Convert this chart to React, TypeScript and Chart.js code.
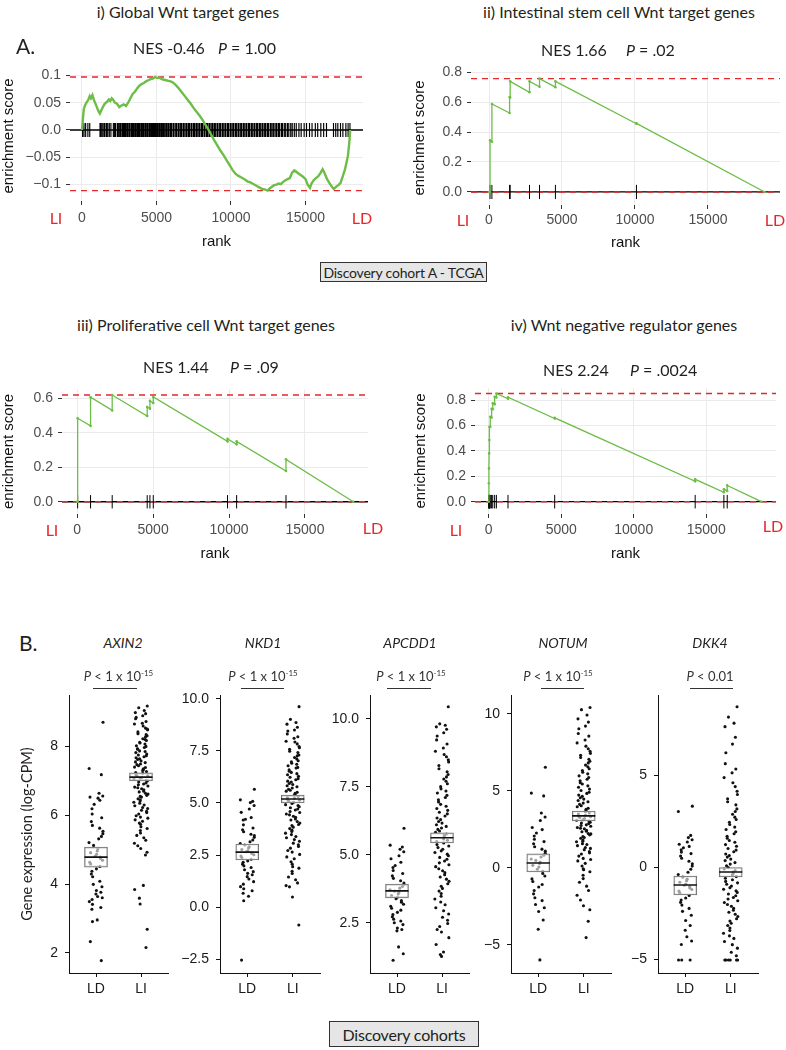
import React, { useEffect, useRef } from "react";
import { Chart, registerables } from "chart.js";

Chart.register(...registerables);

const GREEN = "#6dbd47";
const RED = "#e5262b";
const INK = "#231f20";
const SANS = "'Liberation Sans', Arial, Helvetica, sans-serif";
const MYRIAD = "Lato, 'Noto Sans', sans-serif";

/* ---------------- Panel A : GSEA running enrichment scores ---------------- */
const rankTicks = [0, 5000, 10000, 15000];

// i) Global Wnt target genes
const globalRank = [0, 60, 120, 200, 300, 420, 520, 600, 700, 800, 950, 1100, 1200, 1300, 1400, 1500, 1600, 1700, 1800, 1900, 2000, 2100, 2200, 2350, 2500, 2650, 2800, 2950, 3100, 3250, 3400, 3550, 3700, 3850, 4000, 4150, 4300, 4450, 4600, 4750, 4900, 5050, 5200, 5350, 5500, 5650, 5800, 5950, 6100, 6300, 6500, 6700, 6900, 7100, 7300, 7500, 7700, 7900, 8100, 8300, 8500, 8700, 8900, 9100, 9300, 9500, 9700, 9900, 10100, 10300, 10500, 10700, 10900, 11100, 11300, 11500, 11700, 11900, 12100, 12300, 12450, 12600, 12750, 12900, 13050, 13200, 13350, 13500, 13650, 13800, 13950, 14100, 14250, 14400, 14550, 14700, 14850, 15000, 15150, 15300, 15400, 15550, 15700, 15850, 16000, 16150, 16300, 16450, 16600, 16750, 16900, 17050, 17200, 17350, 17500, 17650, 17750, 17850, 17950, 18000];
const globalES = [0, 0.02, 0.038, 0.045, 0.05, 0.055, 0.062, 0.058, 0.064, 0.055, 0.045, 0.035, 0.03, 0.036, 0.042, 0.047, 0.05, 0.052, 0.056, 0.053, 0.058, 0.055, 0.05, 0.048, 0.042, 0.045, 0.047, 0.044, 0.05, 0.058, 0.066, 0.07, 0.076, 0.081, 0.084, 0.086, 0.089, 0.091, 0.093, 0.094, 0.097, 0.095, 0.096, 0.093, 0.092, 0.091, 0.09, 0.089, 0.087, 0.082, 0.076, 0.069, 0.062, 0.055, 0.048, 0.04, 0.033, 0.026, 0.018, 0.009, 0.0, -0.01, -0.02, -0.029, -0.038, -0.046, -0.055, -0.064, -0.073, -0.08, -0.084, -0.087, -0.09, -0.094, -0.096, -0.099, -0.102, -0.105, -0.108, -0.109, -0.111, -0.107, -0.104, -0.101, -0.1, -0.098, -0.099, -0.095, -0.092, -0.09, -0.088, -0.078, -0.074, -0.077, -0.08, -0.083, -0.086, -0.09, -0.1, -0.106, -0.098, -0.092, -0.088, -0.085, -0.079, -0.072, -0.08, -0.09, -0.097, -0.103, -0.108, -0.104, -0.101, -0.097, -0.085, -0.072, -0.06, -0.047, -0.02, 0];
const globalHits = [40, 135, 245, 395, 520, 1210, 1275, 1360, 1465, 1540, 1645, 1730, 1835, 1940, 2105, 2190, 2255, 2375, 2440, 2530, 2600, 2695, 2745, 2820, 2890, 2955, 3040, 3085, 3175, 3215, 3310, 3365, 3420, 3485, 3570, 3615, 3700, 3760, 3835, 3875, 3965, 4015, 4095, 4145, 4235, 4285, 4370, 4405, 4495, 4550, 4630, 4695, 4770, 4825, 4900, 4965, 5045, 5105, 5190, 5245, 5330, 5395, 5475, 5525, 5620, 5680, 5770, 5845, 5940, 6015, 6120, 6180, 6290, 6345, 6450, 6520, 6620, 6695, 6800, 6860, 6970, 7040, 7140, 7215, 7320, 7385, 7490, 7560, 7660, 7735, 7840, 7905, 8010, 8085, 8190, 8255, 8360, 8430, 8530, 8600, 8710, 8780, 8880, 8950, 9060, 9130, 9240, 9300, 9410, 9480, 9590, 9650, 9760, 9830, 9940, 10010, 10120, 10180, 10290, 10360, 10470, 10540, 10650, 10710, 10820, 10890, 11000, 11070, 11180, 11250, 11360, 11430, 11540, 11610, 11720, 11790, 11900, 11970, 12080, 12150, 12260, 12330, 12440, 12510, 12630, 12700, 12810, 12890, 13010, 13080, 13190, 13270, 13390, 13460, 13580, 13670, 13790, 13880, 14010, 14110, 14250, 14380, 14560, 14710, 14910, 15070, 15270, 15440, 15660, 15820, 16030, 16220, 16410, 16880, 17030, 17170, 17350, 17510, 17710, 17860, 17985];
const globalYTicks = [-0.1, -0.05, 0, 0.05, 0.1];
const globalYLabels = ["\u22120.1", "\u22120.05", "0.0", "0.05", "0.1"];

// ii) Intestinal stem cell Wnt target genes
const stemRank = [0, 70, 70, 200, 200, 1410, 1410, 1450, 1450, 2775, 2775, 3460, 3460, 4550, 4550, 10100, 10100, 18880];
const stemES = [0, 0, 0.344, 0.335, 0.587, 0.527, 0.633, 0.631, 0.738, 0.665, 0.738, 0.702, 0.756, 0.699, 0.738, 0.455, 0.458, 0];
const stemHits = [70, 200, 1410, 1450, 2775, 3460, 4550, 10100];
const stemYTicks = [0, 0.2, 0.4, 0.6, 0.8];
const stemYLabels = ["0.0", "0.2", "0.4", "0.6", "0.8"];

// iii) Proliferative cell Wnt target genes
const prolifRank = [0, 30, 30, 880, 880, 2305, 2305, 4610, 4610, 4790, 4790, 5010, 5010, 9900, 9900, 10500, 10500, 13750, 13750, 18180];
const prolifES = [0, 0, 0.484, 0.44, 0.606, 0.53, 0.619, 0.497, 0.55, 0.54, 0.585, 0.573, 0.608, 0.35, 0.365, 0.333, 0.35, 0.178, 0.246, 0];
const prolifHits = [30, 880, 2305, 4610, 4790, 5010, 9900, 10500, 13750];
const prolifYTicks = [0, 0.2, 0.4, 0.6];
const prolifYLabels = ["0.0", "0.2", "0.4", "0.6"];

// iv) Wnt negative regulator genes
const negRank = [0, 10, 20, 30, 40, 55, 110, 110, 200, 200, 280, 280, 410, 410, 530, 530, 1330, 1330, 4550, 4550, 14240, 14240, 16220, 16220, 16450, 16450, 18800];
const negES = [0, 0.145, 0.262, 0.38, 0.485, 0.59, 0.588, 0.668, 0.663, 0.732, 0.728, 0.775, 0.768, 0.826, 0.82, 0.852, 0.81, 0.822, 0.655, 0.66, 0.16, 0.176, 0.074, 0.097, 0.085, 0.128, 0];
const negHits = [10, 20, 30, 40, 55, 110, 200, 280, 410, 530, 1330, 4550, 14240, 16220, 16450];
const negYTicks = [0, 0.2, 0.4, 0.6, 0.8];
const negYLabels = ["0.0", "0.2", "0.4", "0.6", "0.8"];

/* ---------------- Panel B : gene expression, LD vs LI ---------------- */
const groups = ["LD", "LI"];
const geneNames = ["AXIN2", "NKD1", "APCDD1", "NOTUM", "DKK4"];
const pPrefix = ["< 1 x 10", "< 1 x 10", "< 1 x 10", "< 1 x 10", "< 0.01"];
const pExponent = ["-15", "-15", "-15", "-15", ""];

const axin2LD = [8.69, 7.35, 7.17, 6.63, 6.55, 6.49, 6.52, 6.43, 6.31, 6.18, 6.03, 5.92, 5.81, 5.7, 5.62, 5.53, 5.46, 5.38, 5.31, 5.2, 5.12, 5.02, 4.96, 4.91, 4.86, 4.8, 4.78, 4.74, 4.69, 4.63, 4.58, 4.51, 4.44, 4.37, 4.29, 4.21, 4.08, 3.99, 3.92, 3.81, 3.76, 3.71, 3.64, 3.6, 3.55, 3.49, 3.41, 3.32, 3.27, 2.96, 2.91, 2.33, 1.78];
const axin2LI = [9.16, 9.11, 9.03, 8.97, 8.94, 8.88, 8.83, 8.79, 8.71, 8.66, 8.64, 8.58, 8.52, 8.49, 8.47, 8.41, 8.36, 8.33, 8.3, 8.26, 8.21, 8.19, 8.16, 8.11, 8.09, 8.06, 8.01, 7.99, 7.96, 7.92, 7.91, 7.86, 7.84, 7.81, 7.77, 7.74, 7.72, 7.69, 7.66, 7.63, 7.61, 7.57, 7.54, 7.52, 7.48, 7.46, 7.43, 7.39, 7.38, 7.34, 7.31, 7.29, 7.26, 7.23, 7.21, 7.17, 7.14, 7.13, 7.09, 7.07, 7.04, 7.01, 6.99, 6.96, 6.93, 6.9, 6.88, 6.84, 6.81, 6.79, 6.76, 6.73, 6.69, 6.67, 6.63, 6.61, 6.57, 6.54, 6.52, 6.47, 6.44, 6.41, 6.37, 6.34, 6.29, 6.27, 6.22, 6.19, 6.14, 6.11, 6.07, 6.03, 5.98, 5.94, 5.91, 5.86, 5.82, 5.77, 5.73, 5.66, 5.61, 5.55, 5.48, 5.41, 5.34, 5.27, 5.18, 5.11, 5.03, 4.92, 4.84, 3.96, 3.84, 3.59, 3.42, 2.69, 2.16];
const axin2Box = [[4.49, 4.78, 5.07], [6.99, 7.1, 7.22]];
const axin2YTicks = [2, 4, 6, 8];
const axin2YLabels = ["2", "4", "6", "8"];

const nkd1LD = [5.66, 5.15, 5.08, 5.02, 4.88, 4.71, 4.55, 4.3, 4.22, 4.18, 3.95, 3.8, 3.71, 3.62, 3.5, 3.44, 3.35, 3.22, 3.14, 3.05, 2.98, 2.9, 2.84, 2.76, 2.7, 2.66, 2.62, 2.57, 2.51, 2.45, 2.38, 2.3, 2.22, 2.15, 2.06, 1.98, 1.9, 1.79, 1.7, 1.62, 1.55, 1.46, 1.35, 1.22, 1.1, 0.98, 0.88, 0.78, 0.66, 0.52, 0.3, -2.55];
const nkd1LI = [9.63, 9.02, 8.87, 8.79, 8.64, 8.51, 8.46, 8.32, 8.18, 8.11, 7.97, 7.93, 7.84, 7.71, 7.66, 7.58, 7.49, 7.43, 7.31, 7.27, 7.19, 7.12, 7.03, 6.98, 6.91, 6.86, 6.79, 6.71, 6.68, 6.59, 6.53, 6.47, 6.41, 6.36, 6.28, 6.24, 6.17, 6.12, 6.05, 6.01, 5.94, 5.89, 5.83, 5.78, 5.72, 5.66, 5.61, 5.57, 5.52, 5.46, 5.41, 5.37, 5.31, 5.26, 5.22, 5.17, 5.13, 5.08, 5.03, 4.98, 4.92, 4.88, 4.82, 4.77, 4.71, 4.66, 4.59, 4.54, 4.47, 4.43, 4.36, 4.31, 4.23, 4.18, 4.11, 4.04, 3.97, 3.92, 3.84, 3.77, 3.69, 3.63, 3.55, 3.48, 3.39, 3.33, 3.24, 3.16, 3.07, 2.99, 2.91, 2.83, 2.72, 2.64, 2.53, 2.41, 2.32, 2.18, 2.06, 1.94, 1.87, 1.72, 1.61, 1.44, 1.31, 1.16, 1.03, 0.97, 0.48, -0.86];
const nkd1Box = [[2.26, 2.64, 3.03], [5.0, 5.19, 5.38]];
const nkd1YTicks = [-2.5, 0, 2.5, 5, 7.5, 10];
const nkd1YLabels = ["\u22122.5", "0.0", "2.5", "5.0", "7.5", "10.0"];

const apcdd1LD = [5.98, 5.36, 5.29, 5.21, 5.12, 4.97, 4.86, 4.73, 4.61, 4.54, 4.43, 4.32, 4.23, 4.14, 4.05, 3.97, 3.91, 3.84, 3.78, 3.72, 3.67, 3.63, 3.57, 3.51, 3.45, 3.39, 3.32, 3.26, 3.19, 3.11, 3.04, 2.97, 2.89, 2.81, 2.73, 2.64, 2.57, 2.51, 2.44, 2.31, 2.26, 2.21, 1.62, 1.37, 1.13];
const apcdd1LI = [10.45, 9.82, 9.77, 9.71, 9.62, 9.49, 9.37, 9.23, 9.08, 8.93, 8.81, 8.69, 8.61, 8.5, 8.42, 8.29, 8.17, 8.06, 7.96, 7.87, 7.79, 7.71, 7.62, 7.51, 7.43, 7.35, 7.28, 7.19, 7.11, 7.03, 6.95, 6.86, 6.79, 6.71, 6.64, 6.57, 6.51, 6.43, 6.36, 6.3, 6.23, 6.17, 6.11, 6.05, 5.99, 5.94, 5.88, 5.83, 5.77, 5.72, 5.67, 5.59, 5.54, 5.49, 5.44, 5.38, 5.33, 5.27, 5.21, 5.15, 5.09, 5.03, 4.97, 4.91, 4.84, 4.78, 4.71, 4.64, 4.57, 4.49, 4.42, 4.35, 4.27, 4.19, 4.11, 4.03, 3.94, 3.85, 3.77, 3.67, 3.58, 3.48, 3.38, 3.27, 3.17, 3.06, 2.95, 2.83, 2.71, 2.6, 2.48, 2.37, 2.26, 2.17, 1.96, 1.71, 1.43, 1.34, 1.27];
const apcdd1Box = [[3.42, 3.68, 3.93], [5.44, 5.63, 5.81]];
const apcdd1YTicks = [2.5, 5, 7.5, 10];
const apcdd1YLabels = ["2.5", "5.0", "7.5", "10.0"];

const notumLD = [6.54, 4.86, 4.68, 3.57, 3.31, 3.08, 2.63, 2.49, 2.27, 2.08, 1.86, 1.71, 1.57, 1.38, 1.22, 1.09, 0.96, 0.83, 0.71, 0.58, 0.49, 0.38, 0.29, 0.17, 0.06, -0.08, -0.21, -0.36, -0.52, -0.71, -0.88, -1.07, -1.24, -1.46, -1.68, -1.93, -2.12, -2.37, -2.58, -2.83, -3.38, -3.98, -5.97];
const notumLI = [10.42, 10.28, 9.93, 9.68, 9.47, 9.21, 9.04, 8.73, 8.56, 8.31, 8.12, 7.91, 7.74, 7.58, 7.44, 7.31, 7.17, 7.06, 6.93, 6.82, 6.68, 6.57, 6.44, 6.33, 6.21, 6.11, 5.98, 5.87, 5.76, 5.66, 5.54, 5.45, 5.33, 5.24, 5.12, 5.03, 4.92, 4.84, 4.73, 4.65, 4.56, 4.47, 4.38, 4.3, 4.21, 4.13, 4.04, 3.97, 3.88, 3.81, 3.72, 3.65, 3.57, 3.5, 3.42, 3.36, 3.33, 3.28, 3.21, 3.13, 3.1, 3.05, 2.97, 2.92, 2.88, 2.8, 2.76, 2.71, 2.63, 2.58, 2.54, 2.44, 2.39, 2.35, 2.24, 2.21, 2.15, 2.04, 1.98, 1.93, 1.82, 1.74, 1.7, 1.58, 1.52, 1.45, 1.33, 1.27, 1.19, 1.06, 0.98, 0.91, 0.77, 0.62, 0.55, 0.46, 0.3, 0.13, -0.06, -0.12, -0.25, -0.47, -0.69, -0.93, -1.18, -1.46, -1.77, -2.08, -2.45, -2.71, -3.46, -4.52];
const notumBox = [[-0.26, 0.32, 0.91], [3.05, 3.38, 3.7]];
const notumYTicks = [-5, 0, 5, 10];
const notumYLabels = ["\u22125", "0", "5", "10"];

const dkk4LD = [3.31, 3.02, 1.72, 1.6, 1.48, 1.36, 1.24, 1.12, 1.05, 0.94, 0.81, 0.73, 0.6, 0.48, 0.31, 0.18, 0.05, -0.12, -0.28, -0.41, -0.55, -0.66, -0.74, -0.83, -0.92, -0.99, -1.06, -1.14, -1.22, -1.31, -1.43, -1.55, -1.68, -1.79, -1.92, -2.07, -2.25, -2.41, -2.62, -2.91, -3.18, -3.44, -3.79, -4.02, -4.21, -5.05, -5.05, -5.05];
const dkk4LI = [8.71, 8.15, 7.82, 7.63, 7.05, 6.68, 6.21, 5.62, 5.33, 5.12, 4.86, 4.58, 4.37, 4.12, 3.94, 3.71, 3.55, 3.38, 3.16, 3.02, 2.87, 2.71, 2.58, 2.43, 2.31, 2.17, 2.04, 1.92, 1.81, 1.67, 1.56, 1.44, 1.35, 1.22, 1.13, 1.01, 0.92, 0.83, 0.71, 0.62, 0.54, 0.43, 0.35, 0.24, 0.16, 0.07, -0.03, -0.11, -0.19, -0.27, -0.36, -0.44, -0.52, -0.61, -0.69, -0.78, -0.86, -0.94, -1.03, -1.12, -1.21, -1.29, -1.38, -1.47, -1.56, -1.66, -1.74, -1.83, -1.93, -2.04, -2.13, -2.24, -2.35, -2.46, -2.57, -2.69, -2.81, -2.93, -3.06, -3.18, -3.32, -3.45, -3.6, -3.74, -3.88, -4.05, -4.22, -4.41, -4.63, -4.82, -5.05, -5.05, -5.05, -5.05, -5.05, -5.05];
const dkk4Box = [[-1.52, -0.98, -0.49], [-0.54, -0.27, 0.0]];
const dkk4YTicks = [-5, 0, 5];
const dkk4YLabels = ["\u22125", "0", "5"];

/* ---------------- helpers ---------------- */
const JIT = 0.16;
const BOX_HALF = 0.256;
function jitterOffset(i: number, g: number) {
  const s = Math.sin((i + 1) * 12.9898 + g * 4.1414) * 43758.5453;
  return (s - Math.floor(s) - 0.5) * 2 * JIT;
}

function Txt({ x, y, size = 16, color = INK, align = "center", italic = false, family = MYRIAD, children }: any) {
  return (
    <div
      style={{
        position: "absolute",
        left: x,
        top: y - size * 0.6,
        height: size * 1.2,
        lineHeight: `${size * 1.2}px`,
        fontSize: size,
        fontFamily: family,
        color,
        fontStyle: italic ? "italic" : "normal",
        whiteSpace: "nowrap",
        transform: align === "center" ? "translateX(-50%)" : undefined,
      }}
    >
      {children}
    </div>
  );
}

function GseaChart(p: any) {
  const ref = useRef<HTMLCanvasElement | null>(null);
  useEffect(() => {
    if (!ref.current) return;
    const curve = p.rank.map((r: number, i: number) => ({ x: r, y: p.es[i] }));
    const esMax = Math.max(...p.es);
    const esMin = Math.min(...p.es);
    const half = (esMax - esMin) / 16;
    const hitSeg: any[] = [];
    p.hits.forEach((h: number) => hitSeg.push({ x: h, y: -half }, { x: h, y: half }, { x: h, y: null }));
    const [x0, x1] = p.xRange;
    const chart = new Chart(ref.current, {
      type: "scatter",
      data: {
        datasets: [
          { type: "line", data: curve, borderColor: GREEN, backgroundColor: GREEN, borderWidth: p.lineW, pointRadius: p.pointR, pointBorderWidth: 0, tension: 0, order: 0 },
          { type: "line", data: hitSeg, borderColor: "#000", borderWidth: p.hitW, pointRadius: 0, spanGaps: false, order: 1 },
          { type: "line", data: [{ x: x0, y: esMax }, { x: x1, y: esMax }], borderColor: RED, borderWidth: 1.4, borderDash: [6, 5], pointRadius: 0, order: 2 },
          { type: "line", data: [{ x: x0, y: esMin }, { x: x1, y: esMin }], borderColor: RED, borderWidth: 1.4, borderDash: [6, 5], pointRadius: 0, order: 2 },
          { type: "line", data: [{ x: x0, y: 0 }, { x: x1, y: 0 }], borderColor: "#000", borderWidth: 1.3, pointRadius: 0, order: 3 },
        ],
      } as any,
      options: {
        animation: false,
        responsive: false,
        events: [],
        layout: { padding: { left: 0, right: p.padRight, top: p.padTop, bottom: 0 } },
        plugins: { legend: { display: false }, tooltip: { enabled: false } },
        scales: {
          x: {
            type: "linear",
            min: x0,
            max: x1,
            afterBuildTicks: (s: any) => { s.ticks = rankTicks.map((v) => ({ value: v })); },
            afterFit: (s: any) => { s.height = p.xAxisH; },
            grid: { color: "#ebebeb", lineWidth: 1, tickColor: "#333", tickLength: 4 },
            border: { display: false },
            ticks: { font: { family: SANS, size: 14 }, color: "#4d4d4d", padding: p.xLabelPad, autoSkip: false, maxRotation: 0, callback: (v: any) => String(v) },
            title: { display: true, text: "rank", font: { family: SANS, size: 15 }, color: "#111", padding: { top: 0, bottom: p.xTitlePad } },
          },
          y: {
            type: "linear",
            min: p.yRange[0],
            max: p.yRange[1],
            afterBuildTicks: (s: any) => { s.ticks = p.yTicks.map((v: number) => ({ value: v })); },
            afterFit: (s: any) => { s.width = p.yAxisW; },
            grid: { color: "#ebebeb", lineWidth: 1, tickColor: "#333", tickLength: 4 },
            border: { display: false },
            ticks: { font: { family: SANS, size: 14 }, color: "#4d4d4d", padding: 5, autoSkip: false, callback: (_v: any, i: number) => p.yLabels[i] },
            title: { display: true, text: "enrichment score", font: { family: SANS, size: 15 }, color: "#111", padding: { top: p.yTitlePad, bottom: 0 } },
          },
        },
      } as any,
    });
    return () => chart.destroy();
  }, []);
  return (
    <canvas
      ref={ref}
      width={p.width}
      height={p.height}
      style={{ position: "absolute", left: p.left, top: p.top, width: p.width, height: p.height }}
    />
  );
}

function JitterChart(p: any) {
  const ref = useRef<HTMLCanvasElement | null>(null);
  useEffect(() => {
    if (!ref.current) return;
    const pts = (vals: number[], g: number) => vals.map((v, i) => ({ x: g + jitterOffset(i, g), y: v }));
    const boxData = [
      { x: 1, y: [p.box[0][0], p.box[0][2]] },
      { x: 2, y: [p.box[1][0], p.box[1][2]] },
    ];
    const med = [
      { x: 1 - BOX_HALF, y: p.box[0][1] },
      { x: 1 + BOX_HALF, y: p.box[0][1] },
      { x: 1.5, y: null },
      { x: 2 - BOX_HALF, y: p.box[1][1] },
      { x: 2 + BOX_HALF, y: p.box[1][1] },
    ];
    const chart = new Chart(ref.current, {
      type: "scatter",
      data: {
        datasets: [
          { type: "line", data: med, borderColor: "#111", borderWidth: 1.6, pointRadius: 0, spanGaps: false, order: 0 },
          { type: "bar", data: boxData, backgroundColor: "rgba(255,255,255,0.6)", borderColor: "#707070", borderWidth: 1, borderSkipped: false, barThickness: 23, order: 1 },
          { type: "scatter", data: [...pts(p.ld, 1), ...pts(p.li, 2)], pointRadius: 1.55, backgroundColor: "#111", borderWidth: 0, order: 2 },
        ],
      } as any,
      options: {
        animation: false,
        responsive: false,
        events: [],
        layout: { padding: { left: 0, right: p.padRight, top: p.padTop, bottom: 0 } },
        plugins: { legend: { display: false }, tooltip: { enabled: false } },
        scales: {
          x: {
            type: "linear",
            min: 0.4,
            max: 2.6,
            offset: false,
            afterBuildTicks: (s: any) => { s.ticks = [{ value: 1 }, { value: 2 }]; },
            afterFit: (s: any) => { s.height = p.xAxisH; },
            grid: { display: true, drawOnChartArea: false, drawTicks: true, tickLength: 4, color: "#111", offset: false },
            border: { display: true, color: "#111", width: 1 },
            ticks: { font: { family: SANS, size: 14 }, color: "#1a1a1a", padding: 3.6, autoSkip: false, maxRotation: 0, callback: (_v: any, i: number) => groups[i] },
          },
          y: {
            type: "linear",
            min: p.yRange[0],
            max: p.yRange[1],
            afterBuildTicks: (s: any) => { s.ticks = p.yTicks.map((v: number) => ({ value: v })); },
            afterFit: (s: any) => { s.width = p.yAxisW; },
            grid: { display: true, drawOnChartArea: false, drawTicks: true, tickLength: 4, color: "#111" },
            border: { display: true, color: "#111", width: 1 },
            ticks: { font: { family: SANS, size: 14 }, color: "#1a1a1a", padding: 7, autoSkip: false, callback: (_v: any, i: number) => p.yLabels[i] },
            title: p.yTitle
              ? { display: true, text: p.yTitle, font: { family: MYRIAD, size: 14.5 }, color: INK, padding: { top: 18.3, bottom: 0 } }
              : { display: false },
          },
        },
      } as any,
    });
    return () => chart.destroy();
  }, []);
  return (
    <canvas
      ref={ref}
      width={p.width}
      height={p.height}
      style={{ position: "absolute", left: p.left, top: p.top, width: p.width, height: p.height }}
    />
  );
}

function Bracket({ x1, x2, y }: any) {
  return <div style={{ position: "absolute", left: x1, top: y, width: x2 - x1, height: 0, borderTop: "1.3px solid #333" }} />;
}

function LabelBox({ left, top, width, height, size, children }: any) {
  return (
    <div
      style={{
        position: "absolute",
        left,
        top,
        width,
        height,
        boxSizing: "border-box",
        border: "1px solid #333",
        background: "#e6e6e6",
        display: "flex",
        alignItems: "center",
        justifyContent: "center",
        fontFamily: MYRIAD,
        fontSize: size,
        letterSpacing: -0.2,
        color: INK,
        whiteSpace: "nowrap",
      }}
    >
      {children}
    </div>
  );
}

export default function App() {
  const bTop = 665;
  const bH = 340;
  const geneCx = [123, 263, 410, 563, 710];
  const pCx = [118.5, 263, 411, 558, 710];
  const brackets = [[93, 137], [241, 284], [387, 431], [541, 584], [690, 733]];
  return (
    <div style={{ position: "absolute", left: 0, top: 0, width: 786, height: 1050, background: "#fff", overflow: "hidden" }}>
      {/* Panel A charts */}
      <GseaChart rank={globalRank} es={globalES} hits={globalHits} yTicks={globalYTicks} yLabels={globalYLabels}
        xRange={[-805, 18860]} yRange={[-0.13, 0.108]} left={0} top={50} width={393} height={205}
        padTop={21} padRight={30} yAxisW={70} xAxisH={54} yTitlePad={0} xTitlePad={4} xLabelPad={5}
        lineW={2.4} pointR={0} hitW={1.15} />
      <GseaChart rank={stemRank} es={stemES} hits={stemHits} yTicks={stemYTicks} yLabels={stemYLabels}
        xRange={[-1233, 19932]} yRange={[-0.087, 0.807]} left={393} top={50} width={393} height={205}
        padTop={21} padRight={6} yAxisW={78} xAxisH={50} yTitlePad={18} xTitlePad={3} xLabelPad={3}
        lineW={1.3} pointR={1.3} hitW={1} />
      <GseaChart rank={prolifRank} es={prolifES} hits={prolifHits} yTicks={prolifYTicks} yLabels={prolifYLabels}
        xRange={[-1000, 19150]} yRange={[-0.071, 0.654]} left={0} top={365} width={393} height={200}
        padTop={24} padRight={25} yAxisW={62} xAxisH={51} yTitlePad={0} xTitlePad={2} xLabelPad={3.6}
        lineW={1.3} pointR={1.3} hitW={1} />
      <GseaChart rank={negRank} es={negES} hits={negHits} yTicks={negYTicks} yLabels={negYLabels}
        xRange={[-945, 19814]} yRange={[-0.097, 0.895]} left={393} top={365} width={393} height={200}
        padTop={23} padRight={10} yAxisW={82} xAxisH={51} yTitlePad={19} xTitlePad={2} xLabelPad={3.6}
        lineW={1.3} pointR={1.3} hitW={1} />

      {/* Panel B charts */}
      <JitterChart ld={axin2LD} li={axin2LI} box={axin2Box} yTicks={axin2YTicks} yLabels={axin2YLabels}
        yRange={[1.42, 9.48]} left={0} top={bTop} width={178} height={bH} padTop={30} padRight={10}
        yAxisW={69} xAxisH={32} yTitle="Gene expression (log-CPM)" />
      <JitterChart ld={nkd1LD} li={nkd1LI} box={nkd1Box} yTicks={nkd1YTicks} yLabels={nkd1YLabels}
        yRange={[-3.17, 10.19]} left={170} top={bTop} width={160} height={bH} padTop={30} padRight={10}
        yAxisW={50} xAxisH={32} />
      <JitterChart ld={apcdd1LD} li={apcdd1LI} box={apcdd1Box} yTicks={apcdd1YTicks} yLabels={apcdd1YLabels}
        yRange={[0.66, 10.88]} left={320} top={bTop} width={159} height={bH} padTop={30} padRight={10}
        yAxisW={50} xAxisH={32} />
      <JitterChart ld={notumLD} li={notumLI} box={notumBox} yTicks={notumYTicks} yLabels={notumYLabels}
        yRange={[-6.82, 11.23]} left={461} top={bTop} width={160} height={bH} padTop={30} padRight={10}
        yAxisW={50} xAxisH={32} />
      <JitterChart ld={dkk4LD} li={dkk4LI} box={dkk4Box} yTicks={dkk4YTicks} yLabels={dkk4YLabels}
        yRange={[-5.76, 9.35]} left={608} top={bTop} width={160} height={bH} padTop={30} padRight={10}
        yAxisW={50} xAxisH={32} />

      {/* Panel A texts */}
      <Txt x={188} y={12}>i) Global Wnt target genes</Txt>
      <Txt x={619} y={12}>ii) Intestinal stem cell Wnt target genes</Txt>
      <Txt x={206} y={325}>iii) Proliferative cell Wnt target genes</Txt>
      <Txt x={624} y={325}>iv) Wnt negative regulator genes</Txt>
      <Txt x={16} y={46} size={21} align="left">A.</Txt>

      <Txt x={133} y={48} align="left">NES -0.46</Txt>
      <Txt x={218} y={48} align="left"><i>P</i> = 1.00</Txt>
      <Txt x={541} y={50} align="left">NES 1.66</Txt>
      <Txt x={626} y={50} align="left"><i>P</i> = .02</Txt>
      <Txt x={143} y={367} align="left">NES 1.44</Txt>
      <Txt x={230} y={367} align="left"><i>P</i> = .09</Txt>
      <Txt x={543} y={370} align="left">NES 2.24</Txt>
      <Txt x={630} y={370} align="left"><i>P</i> = .0024</Txt>

      <Txt x={56} y={218} color={RED}>LI</Txt>
      <Txt x={362} y={218} color={RED}>LD</Txt>
      <Txt x={463} y={220} color={RED}>LI</Txt>
      <Txt x={775} y={220} color={RED}>LD</Txt>
      <Txt x={52} y={530} color={RED}>LI</Txt>
      <Txt x={373} y={528} color={RED}>LD</Txt>
      <Txt x={456} y={530} color={RED}>LI</Txt>
      <Txt x={773} y={526} color={RED}>LD</Txt>

      <LabelBox left={320} top={262} width={167} height={20} size={14}>Discovery cohort A - TCGA</LabelBox>

      {/* Panel B texts */}
      <Txt x={19} y={643} size={21} align="left">B.</Txt>
      {geneNames.map((g, i) => (
        <Txt key={g} x={geneCx[i]} y={643} size={14} italic>{g}</Txt>
      ))}
      {geneNames.map((g, i) => (
        <Txt key={g + "p"} x={pCx[i]} y={677} size={13} color="#333">
          <i>P</i>{" " + pPrefix[i]}
          {pExponent[i] ? <span style={{ fontSize: 8, position: "relative", top: -5 }}>{pExponent[i]}</span> : null}
        </Txt>
      ))}
      {brackets.map((b, i) => (
        <Bracket key={i} x1={b[0]} x2={b[1]} y={688} />
      ))}

      <LabelBox left={329} top={1021} width={150} height={26} size={16}>Discovery cohorts</LabelBox>
    </div>
  );
}
